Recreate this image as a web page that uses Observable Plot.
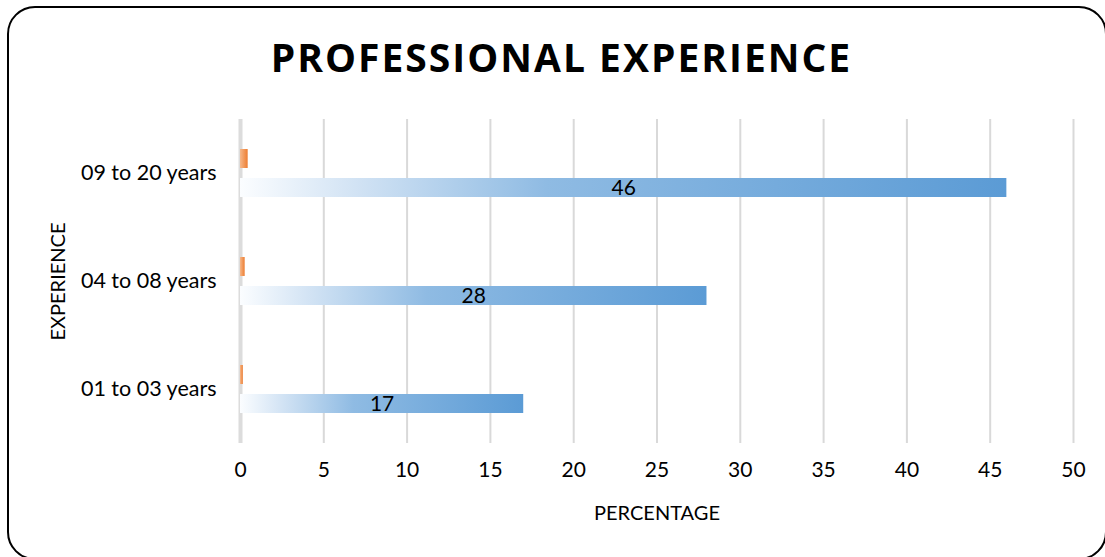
<!DOCTYPE html>
<html>
<head>
<meta charset="utf-8">
<script src="https://cdn.jsdelivr.net/npm/d3@7"></script>
<script src="https://cdn.jsdelivr.net/npm/@observablehq/plot@0.6"></script>
<style>
  html, body { margin: 0; padding: 0; background: #fff; overflow: hidden; }
  #wrap { position: relative; width: 1105px; height: 557px; overflow: hidden; font-family: Lato, "Open Sans", sans-serif; }
  #frame { position: absolute; left: 7px; top: 6px; width: 1100px; height: 554px; box-sizing: border-box; border: 2px solid #000; border-radius: 28px; }
  #title { position: absolute; left: 0; width: 1123px; top: 31px; text-align: center; font-family: "Open Sans", Lato, sans-serif; font-weight: 700; font-size: 39px; line-height: 52px; color: #000; letter-spacing: 2px; }
  #chart { position: absolute; left: 0; top: 0; }
</style>
</head>
<body>
<div id="wrap">
  <div id="frame"></div>
  <div id="chart"></div>
  <div id="title">PROFESSIONAL EXPERIENCE</div>
</div>
<script>
const categories = ["09 to 20 years", "04 to 08 years", "01 to 03 years"];
const percentValues = [46, 28, 17];
const fractionValues = [0.46, 0.28, 0.17];
const xTicks = [0, 5, 10, 15, 20, 25, 30, 35, 40, 45, 50];
const xTitle = "PERCENTAGE";
const yTitle = "EXPERIENCE";

const blueRows = categories.map((c, i) => ({category: c, value: percentValues[i]}));
const orangeRows = categories.map((c, i) => ({category: c, value: fractionValues[i]}));

const defs = () => {
  const g = d3.create("svg:defs");
  const b = g.append("linearGradient").attr("id", "blueGrad").attr("x1", "0").attr("x2", "1").attr("y1", "0").attr("y2", "0");
  [[0, "#fbfdff"], [0.15, "#d2e3f4"], [0.4, "#8fbbe3"], [1, "#5b9bd5"]].forEach(([o, c]) =>
    b.append("stop").attr("offset", o).attr("stop-color", c));
  const o = g.append("linearGradient").attr("id", "orangeGrad").attr("x1", "0").attr("x2", "1").attr("y1", "0").attr("y2", "0");
  [[0, "#f6b88a"], [1, "#ed7d31"]].forEach(([off, c]) =>
    o.append("stop").attr("offset", off).attr("stop-color", c));
  return g.node();
};

const font = "Lato, 'Open Sans', sans-serif";

const chart = Plot.plot({
  width: 1105,
  height: 557,
  marginLeft: 240,
  marginRight: 32,
  marginTop: 119,
  marginBottom: 114,
  style: {fontFamily: font, fontSize: "20px", color: "#000", background: "transparent", overflow: "visible"},
  x: {domain: [0, 50], axis: null},
  y: {domain: categories, padding: 0, axis: null},
  marks: [
    defs,
    Plot.ruleX(xTicks.filter(d => d !== 0), {x: d => d, stroke: "#d9d9d9", strokeWidth: 2}),
    Plot.ruleX([0], {x: d => d, stroke: "#dcdcdc", strokeWidth: 4}),
    Plot.barX(orangeRows, {x: "value", y: "category", fill: "url(#orangeGrad)", insetTop: 30, insetBottom: 59}),
    Plot.barX(blueRows, {x: "value", y: "category", fill: "url(#blueGrad)", insetTop: 59, insetBottom: 30}),
    Plot.text(blueRows, {x: d => d.value / 2, y: "category", text: d => String(d.value), dy: 15, fontSize: 21, fill: "#000"}),
    Plot.text(categories, {y: d => d, text: d => d, frameAnchor: "left", textAnchor: "end", dx: -24, fontSize: 21.5, fill: "#000"}),
    Plot.text(xTicks, {x: d => d, text: d => String(d), frameAnchor: "bottom", dy: 33, fontSize: 21, fill: "#000"}),
    Plot.text([xTitle], {frameAnchor: "bottom", dy: 76, text: d => d, fontSize: 20, fill: "#000"}),
    Plot.text([yTitle], {frameAnchor: "left", textAnchor: "middle", dx: -182, rotate: -90, text: d => d, fontSize: 20, fill: "#000"})
  ]
});
document.getElementById("chart").appendChild(chart);
</script>
</body>
</html>
